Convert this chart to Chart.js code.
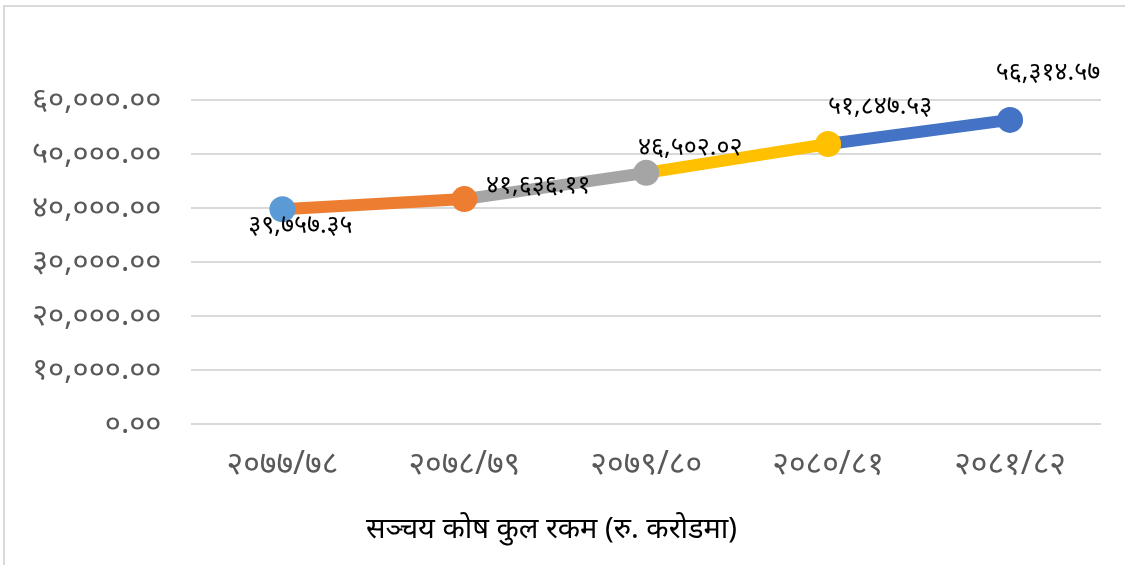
<!DOCTYPE html>
<html>
<head>
<meta charset="utf-8">
<script src="https://cdn.jsdelivr.net/npm/chart.js@4.4.1/dist/chart.umd.min.js"></script>
<style>
  html, body { margin: 0; padding: 0; background: #fff; }
  #frame {
    position: absolute; left: 3px; top: 5px; width: 1130px; height: 570px;
    border-top: 2px solid #d9d9d9; border-left: 2px solid #d9d9d9;
    box-sizing: border-box;
  }
  #wrap { position: absolute; left: 0; top: 0; width: 1125px; height: 565px; }
</style>
</head>
<body>
<div id="frame"></div>
<div id="wrap"><canvas id="chart"></canvas></div>
<script>
// fiscal years (BS)
const years = ['२०७७/७८', '२०७८/७९', '२०७९/८०', '२०८०/८१', '२०८१/८२'];
// provident fund total, Rs. crore
const amounts = [39757.35, 41636.11, 46502.02, 51847.53, 56314.57];
const pointColors = ['#5B9BD5', '#ED7D31', '#A5A5A5', '#FFC000', '#4472C4'];
const chartTitle = 'सञ्चय कोष कुल रकम (रु. करोडमा)';

const devDigits = '०१२३४५६७८९';
const toDev = s => s.replace(/[0-9]/g, d => devDigits[d]);
const fmt = v => toDev(v.toLocaleString('en-US', { minimumFractionDigits: 2, maximumFractionDigits: 2 }));

// label offsets relative to each point (px)
const labelOffsets = [[18, 17], [74, -13], [44, -25], [52, -37], [38, -47]];

const FONT = "'Noto Sans', sans-serif";

const valueLabels = {
    id: 'valueLabels',
    afterDatasetsDraw(chart) {
        const { ctx } = chart;
        const meta = chart.getDatasetMeta(0);
        ctx.save();
        ctx.font = `25px ${FONT}`;
        ctx.fillStyle = '#000';
        ctx.textAlign = 'center';
        ctx.textBaseline = 'middle';
        meta.data.forEach((pt, i) => {
            const [dx, dy] = labelOffsets[i];
            ctx.fillText(fmt(amounts[i]), pt.x + dx, pt.y + dy);
        });
        ctx.restore();
    }
};

new Chart(document.getElementById('chart'), {
    type: 'line',
    data: {
        labels: years,
        datasets: [{
            data: amounts,
            borderWidth: 12,
            pointRadius: 13,
            pointHoverRadius: 13,
            pointBorderWidth: 0,
            pointBackgroundColor: pointColors,
            borderColor: pointColors[1],
            segment: {
                borderColor: c => pointColors[c.p1DataIndex]
            },
            tension: 0
        }]
    },
    options: {
        responsive: true,
        maintainAspectRatio: false,
        animation: false,
        layout: { padding: { left: 2, right: 24, top: 100, bottom: 18 } },
        scales: {
            x: {
                offset: true,
                grid: { display: false },
                border: { display: false },
                ticks: { color: '#595959', font: { size: 32, family: FONT }, padding: 14, maxRotation: 0 }
            },
            y: {
                min: 0,
                max: 60000,
                ticks: {
                    stepSize: 10000,
                    color: '#595959',
                    font: { size: 31, family: FONT },
                    padding: 30,
                    callback: v => fmt(v)
                },
                grid: { color: '#d9d9d9', lineWidth: 2, drawTicks: false },
                border: { display: false }
            }
        },
        plugins: {
            legend: { display: false },
            tooltip: { enabled: false },
            title: {
                display: true,
                position: 'bottom',
                text: chartTitle,
                color: '#000',
                font: { size: 29, weight: 'normal', family: FONT },
                padding: { top: 14, bottom: 0 }
            }
        }
    },
    plugins: [valueLabels]
});
</script>
</body>
</html>
